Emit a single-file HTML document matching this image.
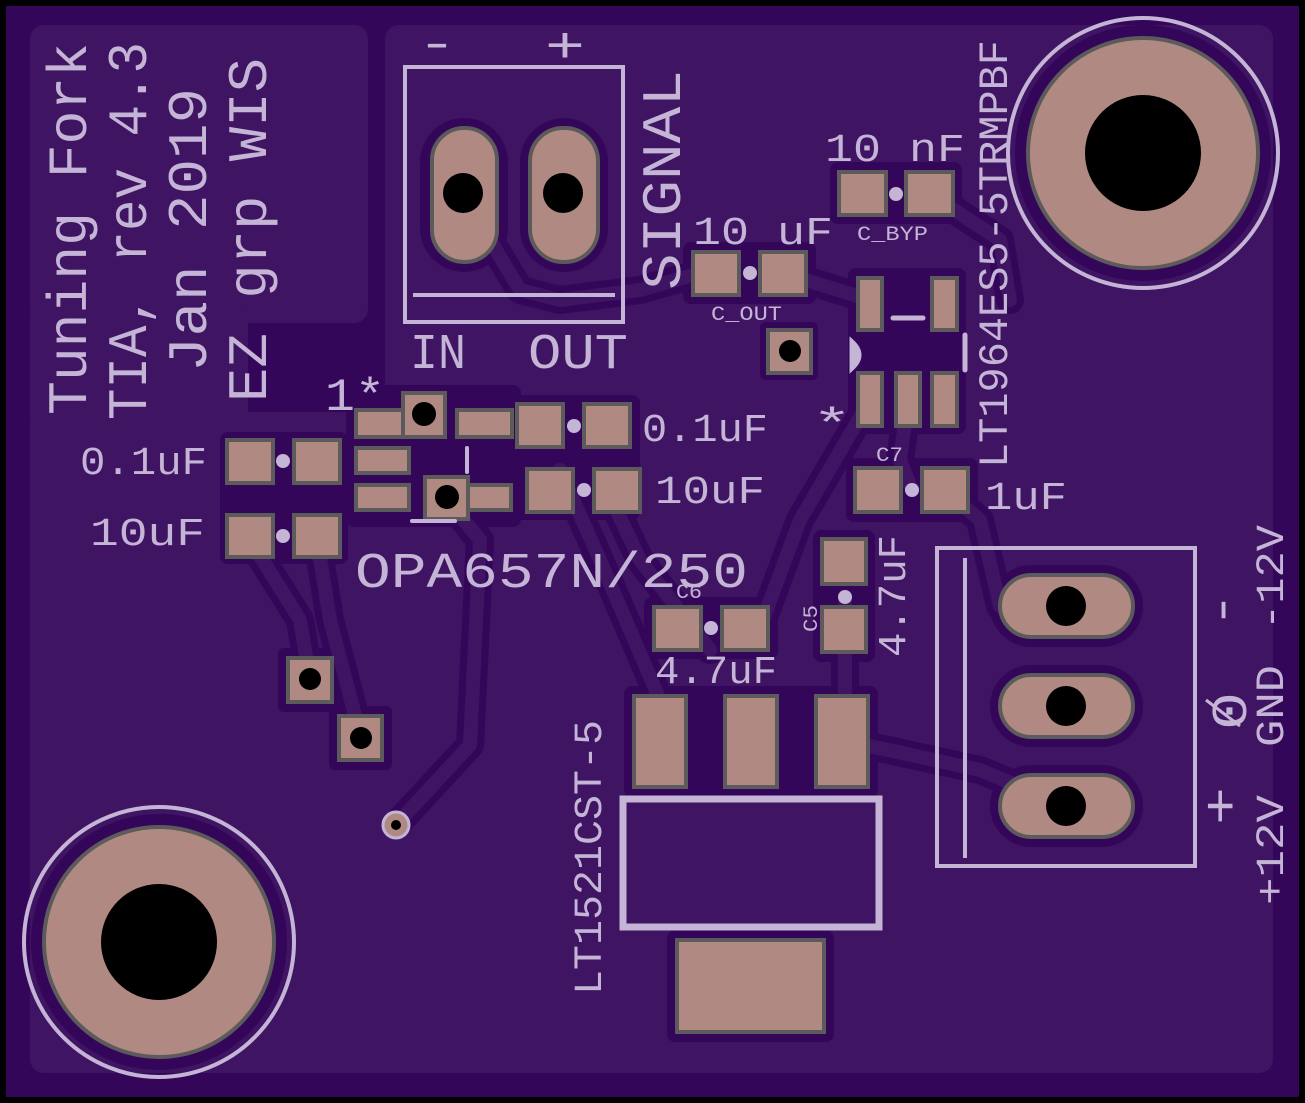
<!DOCTYPE html>
<html><head><meta charset="utf-8"><style>
html,body{margin:0;padding:0;background:#000;}
svg{display:block}
text{font-family:"Liberation Mono","DejaVu Sans Mono",monospace;fill:#c4b4d6;}
</style></head><body>
<svg width="1305" height="1103" viewBox="0 0 1305 1103" xmlns="http://www.w3.org/2000/svg">
<rect x="0" y="0" width="1305" height="1103" fill="#000"/>
<rect x="6" y="6" width="1293" height="1091" fill="#33065a"/>
<!-- ground plane regions -->
<rect x="30" y="25" width="338" height="298" rx="14" fill="#3f1462"/>
<rect x="30" y="300" width="218" height="773" rx="14" fill="#3f1462"/>
<rect x="385" y="25" width="888" height="1048" rx="14" fill="#3f1462"/>
<rect x="30" y="412" width="1243" height="661" rx="14" fill="#3f1462"/>
<!-- clearance zones -->
<g fill="#33065a">
<rect x="220" y="432" width="128" height="132" rx="8"/>
<rect x="346" y="385" width="175" height="142" rx="8"/>
<rect x="507" y="395" width="133" height="125" rx="8"/>
<rect x="683" y="242" width="133" height="62" rx="8"/>
<rect x="760" y="322" width="58" height="58" rx="6"/>
<rect x="830" y="162" width="132" height="62" rx="8"/>
<rect x="848" y="268" width="118" height="166" rx="8"/>
<rect x="846" y="458" width="132" height="64" rx="8"/>
<rect x="813" y="530" width="62" height="132" rx="8"/>
<rect x="644" y="597" width="134" height="62" rx="8"/>
<rect x="624" y="686" width="254" height="112" rx="8"/>
<rect x="667" y="930" width="167" height="112" rx="8"/>
<rect x="278" y="648" width="64" height="64" rx="6"/>
<rect x="329" y="706" width="63" height="64" rx="6"/>
<circle cx="1143" cy="153" r="128"/>
<circle cx="159" cy="942" r="128"/>
<rect x="990" y="565" width="153" height="82" rx="41"/>
<rect x="990" y="665" width="153" height="82" rx="41"/>
<rect x="990" y="765" width="153" height="82" rx="41"/>
<rect x="420" y="118" width="88" height="154" rx="44"/>
<rect x="520" y="118" width="88" height="154" rx="44"/>
</g>
<!-- traces -->
<g fill="none" stroke-linecap="round" stroke-linejoin="round">
<g stroke="#33065a" stroke-width="28">
<polyline points="447,500 480,540 470,745 396,825"/>
<polyline points="250,540 300,620 310,680"/>
<polyline points="317,540 330,620 361,738"/>
<polyline points="463,195 520,290 560,300 640,290 700,273"/>
<polyline points="560,470 600,560 660,700"/>
<polyline points="607,490 640,560 710,650"/>
<polyline points="783,273 870,300"/>
<polyline points="930,194 1000,240 1010,300"/>
<polyline points="908,400 900,460 912,490"/>
<polyline points="842,740 980,770 1066,806"/>
<polyline points="845,600 845,700"/>
<polyline points="945,490 980,520 1000,606 1066,606"/>
<polyline points="870,400 800,520 760,628"/>
</g>
<g stroke="#3f1462" stroke-width="14">
<polyline points="447,500 480,540 470,745 396,825"/>
<polyline points="250,540 300,620 310,680"/>
<polyline points="317,540 330,620 361,738"/>
<polyline points="463,195 520,290 560,300 640,290 700,273"/>
<polyline points="560,470 600,560 660,700"/>
<polyline points="607,490 640,560 710,650"/>
<polyline points="783,273 870,300"/>
<polyline points="930,194 1000,240 1010,300"/>
<polyline points="908,400 900,460 912,490"/>
<polyline points="842,740 980,770 1066,806"/>
<polyline points="845,600 845,700"/>
<polyline points="945,490 980,520 1000,606 1066,606"/>
<polyline points="870,400 800,520 760,628"/>
</g>
</g>
<!-- pads -->
<g fill="#b08a82" stroke="#5c5a5a" stroke-width="4">
<rect x="227" y="440" width="46" height="43"/><rect x="294" y="440" width="46" height="43"/>
<rect x="227" y="515" width="46" height="42"/><rect x="294" y="515" width="46" height="42"/>
<rect x="356" y="410" width="53" height="27"/><rect x="403" y="393" width="42" height="44"/>
<rect x="356" y="448" width="53" height="25"/>
<rect x="356" y="485" width="53" height="25"/>
<rect x="457" y="410" width="55" height="27"/>
<rect x="425" y="485" width="86" height="25"/><rect x="425" y="477" width="43" height="42"/>
<rect x="517" y="404" width="46" height="43"/><rect x="584" y="404" width="46" height="43"/>
<rect x="527" y="469" width="46" height="43"/><rect x="594" y="469" width="46" height="43"/>
<rect x="693" y="252" width="46" height="43"/><rect x="760" y="252" width="46" height="43"/>
<rect x="768" y="330" width="43" height="43"/>
<rect x="839" y="172" width="47" height="43"/><rect x="906" y="172" width="47" height="43"/>
<rect x="858" y="278" width="24" height="52"/><rect x="932" y="278" width="25" height="52"/>
<rect x="858" y="373" width="24" height="53"/><rect x="896" y="373" width="24" height="53"/><rect x="932" y="373" width="25" height="53"/>
<rect x="855" y="468" width="46" height="44"/><rect x="922" y="468" width="46" height="44"/>
<rect x="822" y="539" width="44" height="45"/><rect x="822" y="607" width="44" height="45"/>
<rect x="654" y="607" width="47" height="43"/><rect x="722" y="607" width="46" height="43"/>
<rect x="634" y="696" width="52" height="91"/><rect x="725" y="696" width="52" height="91"/><rect x="816" y="696" width="52" height="91"/>
<rect x="677" y="940" width="147" height="92"/>
<rect x="288" y="658" width="44" height="44"/><rect x="339" y="716" width="43" height="44"/>
<rect x="432" y="128" width="65" height="134" rx="32"/><rect x="530" y="128" width="68" height="134" rx="33"/>
<rect x="1000" y="575" width="133" height="62" rx="31"/>
<rect x="1000" y="675" width="133" height="62" rx="31"/>
<rect x="1000" y="775" width="133" height="62" rx="31"/>
<circle cx="1143" cy="153" r="115"/>
<circle cx="159" cy="942" r="115"/>
</g>
<!-- holes -->
<g fill="#000">
<circle cx="424" cy="414" r="12"/><circle cx="447" cy="497" r="12"/>
<circle cx="790" cy="351" r="11"/><circle cx="310" cy="679" r="11"/><circle cx="361" cy="738" r="11"/>
<circle cx="463" cy="193" r="20"/><circle cx="563" cy="193" r="20"/>
<circle cx="1066" cy="606" r="20"/><circle cx="1066" cy="706" r="20"/><circle cx="1066" cy="806" r="20"/>
<circle cx="1143" cy="153" r="58"/><circle cx="159" cy="942" r="58"/>
</g>
<circle cx="396" cy="825" r="13" fill="#b08a82" stroke="#c4b4d6" stroke-width="3"/>
<circle cx="396" cy="825" r="5" fill="#000"/>
<!-- silkscreen shapes -->
<g fill="none" stroke="#c4b4d6">
<circle cx="1143" cy="153" r="135" stroke-width="4"/>
<circle cx="159" cy="942" r="135" stroke-width="4"/>
<rect x="405" y="67" width="218" height="255" stroke-width="4"/>
<line x1="413" y1="295" x2="615" y2="295" stroke-width="4"/>
<rect x="937" y="548" width="258" height="318" stroke-width="4"/>
<line x1="965" y1="558" x2="965" y2="858" stroke-width="4"/>
<rect x="623" y="799" width="256" height="128" stroke-width="7"/>
<line x1="893" y1="318" x2="923" y2="318" stroke-width="5" stroke-linecap="round"/>
<line x1="965" y1="335" x2="965" y2="370" stroke-width="5" stroke-linecap="round"/>
<line x1="467" y1="448" x2="467" y2="472" stroke-width="4" stroke-linecap="round"/>
<line x1="412" y1="521" x2="455" y2="521" stroke-width="4" stroke-linecap="round"/>
<path d="M852,342 Q866,355 852,368 Z" stroke-width="5" fill="#c4b4d6"/>
</g>
<g fill="#c4b4d6">
<circle cx="283" cy="461" r="7"/><circle cx="283" cy="536" r="7"/>
<circle cx="574" cy="426" r="7"/><circle cx="584" cy="490" r="7"/>
<circle cx="750" cy="273" r="7"/><circle cx="896" cy="194" r="7"/>
<circle cx="912" cy="490" r="7"/><circle cx="845" cy="597" r="7"/><circle cx="711" cy="628" r="7"/>
</g>
<!-- text -->
<text transform="translate(86,415) rotate(-90)" font-size="56" textLength="372" lengthAdjust="spacingAndGlyphs">Tuning Fork</text>
<text transform="translate(146,420) rotate(-90)" font-size="56" textLength="378" lengthAdjust="spacingAndGlyphs">TIA, rev 4.3</text>
<text transform="translate(206,372) rotate(-90)" font-size="56" textLength="284" lengthAdjust="spacingAndGlyphs">Jan 2019</text>
<text transform="translate(266,402) rotate(-90)" font-size="56" textLength="344" lengthAdjust="spacingAndGlyphs">EZ grp WIS</text>
<text x="325" y="410" font-size="46" textLength="60" lengthAdjust="spacingAndGlyphs">1*</text>
<text x="80" y="474" font-size="40" textLength="127" lengthAdjust="spacingAndGlyphs">0.1uF</text>
<text x="90" y="545" font-size="40" textLength="115" lengthAdjust="spacingAndGlyphs">10uF</text>
<text x="642" y="441" font-size="40" textLength="126" lengthAdjust="spacingAndGlyphs">0.1uF</text>
<text x="655" y="503" font-size="40" textLength="110" lengthAdjust="spacingAndGlyphs">10uF</text>
<text x="355" y="587" font-size="50" textLength="393" lengthAdjust="spacingAndGlyphs">OPA657N/250</text>
<text x="410" y="368" font-size="50" textLength="56" lengthAdjust="spacingAndGlyphs">IN</text>
<text x="528" y="368" font-size="50" textLength="100" lengthAdjust="spacingAndGlyphs">OUT</text>
<text x="417" y="58" font-size="46" textLength="40" lengthAdjust="spacingAndGlyphs">-</text>
<text x="545" y="62" font-size="50" textLength="40" lengthAdjust="spacingAndGlyphs">+</text>
<text transform="translate(680,290) rotate(-90)" font-size="56" textLength="220" lengthAdjust="spacingAndGlyphs">SIGNAL</text>
<text x="693" y="244" font-size="40" textLength="140" lengthAdjust="spacingAndGlyphs">10 uF</text>
<text x="825" y="161" font-size="40" textLength="140" lengthAdjust="spacingAndGlyphs">10 nF</text>
<text x="711" y="320" font-size="20" textLength="71" lengthAdjust="spacingAndGlyphs">C_OUT</text>
<text x="857" y="240" font-size="20" textLength="71" lengthAdjust="spacingAndGlyphs">C_BYP</text>
<text x="876" y="461" font-size="20" textLength="27" lengthAdjust="spacingAndGlyphs">C7</text>
<text x="676" y="598" font-size="20" textLength="26" lengthAdjust="spacingAndGlyphs">C6</text>
<text transform="translate(817,632) rotate(-90)" font-size="20" textLength="27" lengthAdjust="spacingAndGlyphs">C5</text>
<text transform="translate(1007,468) rotate(-90)" font-size="42" textLength="428" lengthAdjust="spacingAndGlyphs">LT1964ES5-5TRMPBF</text>
<text x="812" y="438" font-size="44" textLength="40" lengthAdjust="spacingAndGlyphs">*</text>
<text x="985" y="509" font-size="40" textLength="82" lengthAdjust="spacingAndGlyphs">1uF</text>
<text transform="translate(905,657) rotate(-90)" font-size="40" textLength="122" lengthAdjust="spacingAndGlyphs">4.7uF</text>
<text x="655" y="683" font-size="40" textLength="122" lengthAdjust="spacingAndGlyphs">4.7uF</text>
<text transform="translate(601,995) rotate(-90)" font-size="40" textLength="275" lengthAdjust="spacingAndGlyphs">LT1521CST-5</text>
<text transform="translate(1283,630) rotate(-90)" font-size="40" textLength="105" lengthAdjust="spacingAndGlyphs">-12V</text>
<text transform="translate(1283,747) rotate(-90)" font-size="40" textLength="82" lengthAdjust="spacingAndGlyphs">GND</text>
<text transform="translate(1283,905) rotate(-90)" font-size="40" textLength="110" lengthAdjust="spacingAndGlyphs">+12V</text>
<text transform="translate(1237,628) rotate(-90)" font-size="50" textLength="36" lengthAdjust="spacingAndGlyphs">-</text>
<text transform="translate(1246,730) rotate(-90)" font-size="50" textLength="38" lengthAdjust="spacingAndGlyphs">0</text>
<line x1="1206" y1="700" x2="1240" y2="726" stroke="#c4b4d6" stroke-width="3"/>
<text transform="translate(1237,825) rotate(-90)" font-size="50" textLength="38" lengthAdjust="spacingAndGlyphs">+</text>
</svg>
</body></html>
